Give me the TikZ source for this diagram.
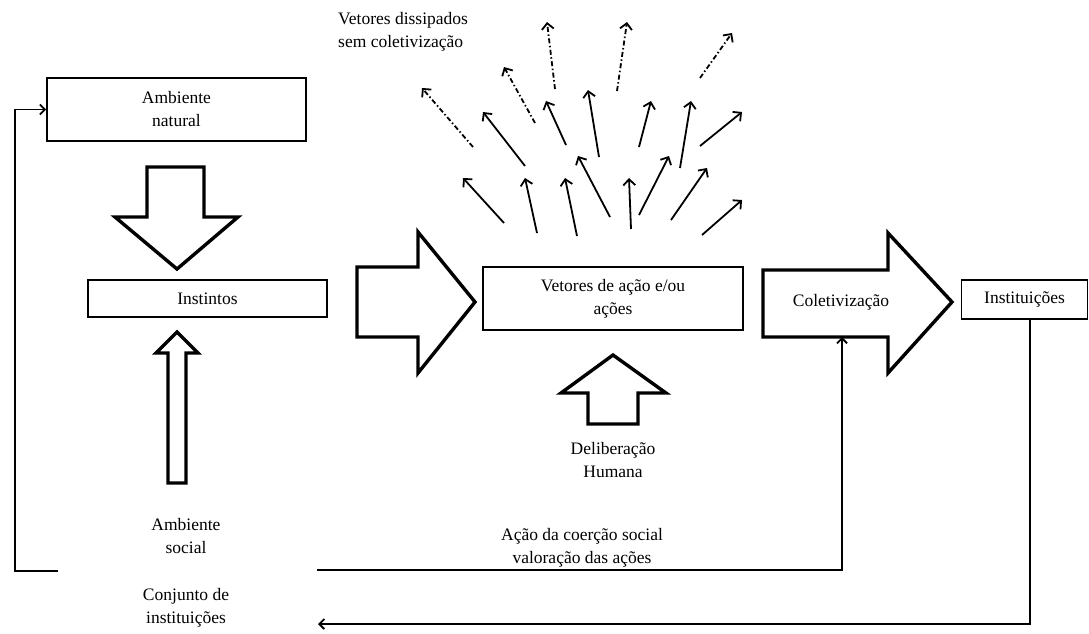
\documentclass[tikz,border=0pt]{standalone}
\usepackage{fontspec}
\setmainfont{Liberation Serif}
\usetikzlibrary{arrows.meta}
\begin{document}
\begin{tikzpicture}[x=1pt,y=-1pt,
  lbl/.style={font=\fontsize{17.5}{23}\selectfont, align=center, inner sep=0pt},
  box/.style={draw, line width=1.6pt, inner sep=0pt, font=\fontsize{17.5}{23}\selectfont, align=center},
  blockarrow/.style={draw, line width=3.4pt, line join=miter, fill=white},
  thinline/.style={draw, line width=1.8pt},
  barb/.style={-{Straight Barb[length=6pt,width=12pt]}},
  vec/.style={line width=1.8pt, barb},
  dissip/.style={line width=1.8pt, barb, dash pattern=on 5pt off 2.5pt on 1.5pt off 2.5pt}
]
\useasboundingbox (0,0) rectangle (1089,633);

% boxes
\node[box, minimum width=259pt, minimum height=63pt] (natural) at (176.5,109.5) {Ambiente\\natural};
\node[box, minimum width=239pt, minimum height=37pt] (instintos) at (207.5,298.5) {Instintos};
\node[box, minimum width=260pt, minimum height=63pt] (vetores) at (613,298.5) {Vetores de ação e/ou\\ações};
\node[box, minimum width=126pt, minimum height=39pt] (instituicoes) at (1024.5,299.5) {\raisebox{-2pt}{Instituições}};

% block arrows
\draw[blockarrow] (147,167) -- (204,167) -- (204,217) -- (238,217) -- (177,269) -- (115,217) -- (147,217) -- cycle;
\draw[blockarrow] (168,483) -- (186,483) -- (186,353) -- (198,353) -- (177,332) -- (156,353) -- (168,353) -- cycle;
\draw[blockarrow] (357,267) -- (418,267) -- (418,232) -- (475,302) -- (418,373) -- (418,337) -- (357,337) -- cycle;
\draw[blockarrow] (588,424) -- (638,424) -- (638,393) -- (666,393) -- (613,355) -- (561,393) -- (588,393) -- cycle;
\draw[blockarrow] (763,270) -- (888,270) -- (888,233) -- (952,302) -- (888,373) -- (888,337) -- (763,337) -- cycle;
\node[lbl] (colet) at (841,302) {Coletivização};
\coordinate (coletbot) at (842,337);

% texts
\node[lbl, align=left, anchor=west] (dissipados) at (338,31.5) {Vetores dissipados\\sem coletivização};
\node[lbl] (social) at (186,536) {Ambiente\\social};
\node[lbl] (conjunto) at (186,608) {Conjunto de\\instituições};
\node[lbl] (delib) at (613,460) {Deliberação\\Humana};
\node[lbl] (coercao) at (582,548) {Ação da coerção social\\valoração das ações};

% feedback lines
\coordinate (fbstart) at (58,571);
\coordinate (fbcorner) at (15,571);
\draw[thinline, -{Straight Barb[length=5pt,width=10pt]}] (fbstart) -- (fbcorner) |- (natural.west);

\coordinate (coerstart) at (317,570);
\draw[thinline, -{Straight Barb[length=5pt,width=10pt]}] (coerstart) -| (coletbot);

\coordinate (instend) at (318,624);
\draw[thinline, -{Straight Barb[length=5pt,width=10pt]}] ([xshift=5.5pt]instituicoes.south) |- (instend);

% dissipated vectors
\draw[dissip] (473,147) -- (422,88);
\draw[dissip] (535,123) -- (504,67);
\draw[dissip] (555,89) -- (547,22);
\draw[dissip] (617,91) -- (627,22);
\draw[dissip] (700,78) -- (732,33);

% action vectors
\draw[vec] (525,166) -- (483,112);
\draw[vec] (566,145) -- (546,101);
\draw[vec] (599,157) -- (588,90);
\draw[vec] (639,147) -- (651,101);
\draw[vec] (680,168) -- (691,101);
\draw[vec] (700,146) -- (742,112);
\draw[vec] (504,223) -- (463,178);
\draw[vec] (537,233) -- (525,178);
\draw[vec] (577,236) -- (565,178);
\draw[vec] (610,217) -- (578,156);
\draw[vec] (631,229) -- (629,178);
\draw[vec] (639,215) -- (669,156);
\draw[vec] (671,220) -- (707,168);
\draw[vec] (702,235) -- (742,200);
\end{tikzpicture}
\end{document}
